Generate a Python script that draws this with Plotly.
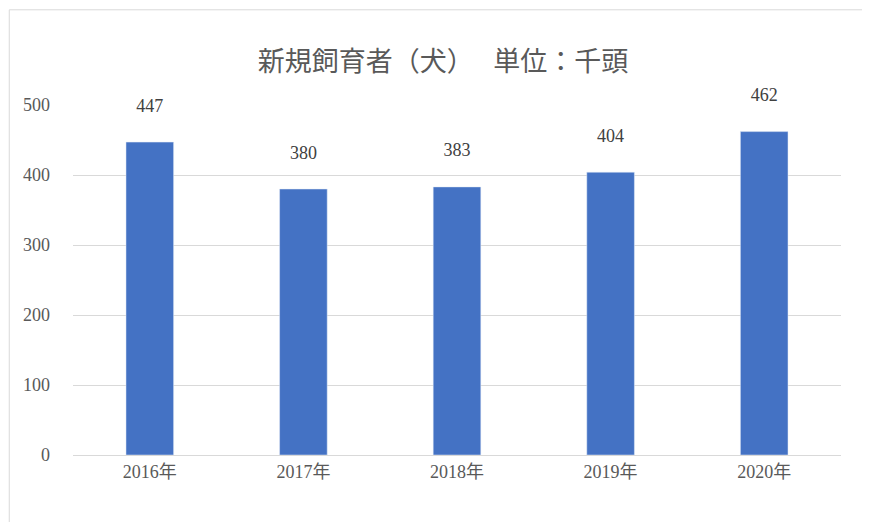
import plotly.graph_objects as go

years = ["2016年", "2017年", "2018年", "2019年", "2020年"]
dogs = [447, 380, 383, 404, 462]

font_family = "Liberation Serif, Noto Sans CJK JP"

fig = go.Figure(go.Bar(
    x=years,
    y=dogs,
    marker_color="#4472C4",
    width=0.31,
    texttemplate="%{y}<br> ",
    textposition="outside",
    textfont=dict(size=18, color="#404040"),
    cliponaxis=False,
))

fig.update_layout(
    width=870, height=522,
    margin=dict(l=65, r=37, t=97, b=75),
    paper_bgcolor="white",
    plot_bgcolor="white",
    font=dict(family=font_family, color="#595959", size=18),
    title=dict(text="新規飼育者（犬）　 単位：千頭", x=0.5, xanchor="center",
               y=0.915, font=dict(size=27, color="#595959", family="Noto Sans CJK JP")),
    showlegend=False,
    xaxis=dict(showline=True, linecolor="#D9D9D9", ticks="", tickfont=dict(size=18)),
    yaxis=dict(range=[0, 500], dtick=100, gridcolor="#D9D9D9", zeroline=False,
               showline=False, tickfont=dict(size=18), ticklabelstandoff=22),
    shapes=[dict(type="rect", xref="paper", yref="paper", x0=-0.083, x1=1.045,
                 y0=-0.208, y1=1.272, line=dict(color="#D9D9D9", width=1))],
)

fig.write_html("out.html")
